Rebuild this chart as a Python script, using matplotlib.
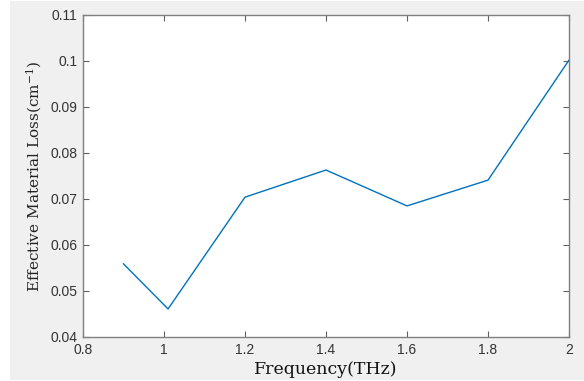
import matplotlib
matplotlib.use("Agg")
import matplotlib.pyplot as plt
from matplotlib.patches import Rectangle

freq_thz = [0.9, 1.01, 1.2, 1.4, 1.6, 1.8, 2.0]
loss_cm = [0.0559, 0.0461, 0.0704, 0.0763, 0.0685, 0.0741, 0.1002]
x_ticks = [0.8, 1.0, 1.2, 1.4, 1.6, 1.8, 2.0]
x_tick_labels = ["0.8", "1", "1.2", "1.4", "1.6", "1.8", "2"]
y_ticks = [0.04, 0.05, 0.06, 0.07, 0.08, 0.09, 0.10, 0.11]
y_tick_labels = ["0.04", "0.05", "0.06", "0.07", "0.08", "0.09", "0.1", "0.11"]

plt.rcParams["mathtext.fontset"] = "dejavuserif"

W, H = 584, 381
fig = plt.figure(figsize=(W / 100, H / 100), dpi=100, facecolor="white")
# light grey figure panel behind the axes
panel = Rectangle((10 / W, 1 / H), (W - 10) / W, 379 / H,
                  transform=fig.transFigure, facecolor="#f0f0f0",
                  edgecolor="none", zorder=-10)
fig.add_artist(panel)

left, right, top, bottom = 83, 569, 15, 337
ax = fig.add_axes([left / W, 1 - bottom / H, (right - left) / W, (bottom - top) / H])
ax.set_facecolor("white")

ax.plot(freq_thz, loss_cm, color="#0072BD", linewidth=1.0)

ax.set_xlim(0.8, 2.0)
ax.set_ylim(0.04, 0.11)
ax.set_xticks(x_ticks)
ax.set_xticklabels(x_tick_labels)
ax.set_yticks(y_ticks)
ax.set_yticklabels(y_tick_labels)

for s in ax.spines.values():
    s.set_color("#808080")
    s.set_linewidth(1.0)
ax.tick_params(direction="in", length=4, width=0.8, color="#606060",
               top=True, right=True, labelsize=10, labelcolor="#333333",
               pad=4, labelfontfamily="Liberation Sans")

ax.set_xlabel("Frequency(THz)", family="DejaVu Serif", fontsize=12.5,
              fontweight="medium", color="#111111", labelpad=3)
ax.set_ylabel("Effective Material Loss(cm$^{-1}$)", family="DejaVu Serif",
              fontsize=11, color="#222222", labelpad=5)

fig.savefig("out.png", dpi=100, facecolor="white")
